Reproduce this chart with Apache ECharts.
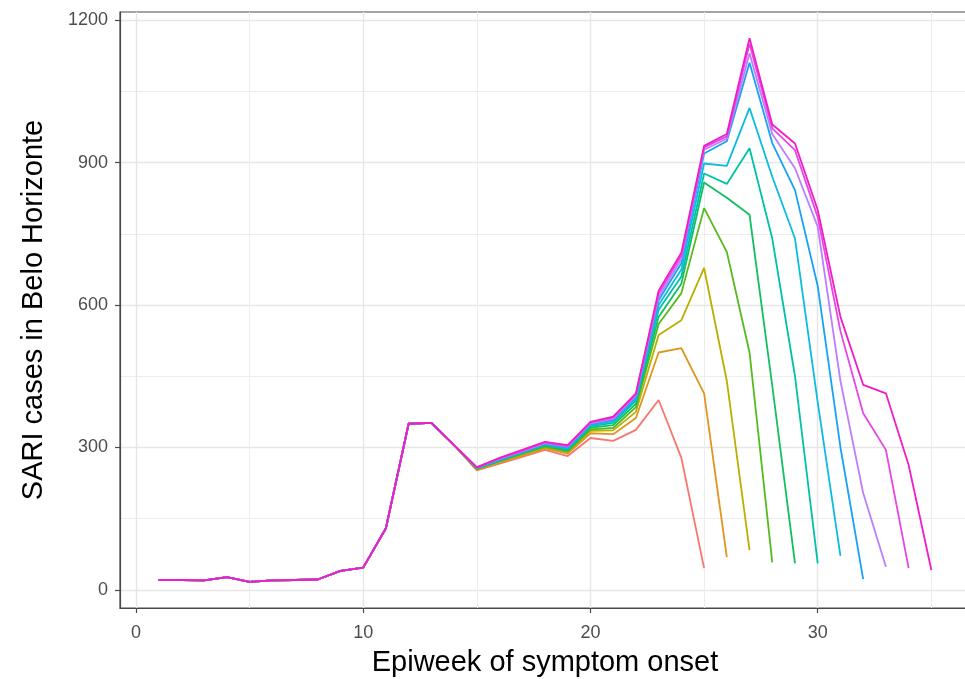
<!DOCTYPE html>
<html>
<head>
<meta charset="utf-8">
<script src="https://cdn.jsdelivr.net/npm/echarts@6/dist/echarts.min.js"></script>
<style>
  html, body { margin: 0; padding: 0; background: #ffffff; overflow: hidden; }
  #chart { width: 965px; height: 679px; }
</style>
</head>
<body>
<div id="chart"></div>
<script>
// Weekly SARI counts in Belo Horizonte, one curve per data snapshot.
// Weeks 1-14 are shared by every snapshot.
const earlyCounts = [21, 21, 20, 27, 17, 20, 21, 22, 40, 47, 130, 350, 352, 305];

// Each snapshot continues from week 15 up to its last reported week.
const snapshotWeek25 = [252, 266, 280, 295, 282, 320, 314, 337, 400, 278, 46];
const snapshotWeek26 = [253, 268, 283, 298, 287, 330, 328, 362, 500, 509, 414, 69];
const snapshotWeek27 = [254, 270, 285, 300, 290, 335, 336, 375, 537, 568, 678, 440, 84];
const snapshotWeek28 = [255, 271, 287, 302, 292, 338, 341, 385, 560, 625, 804, 712, 500, 58];
const snapshotWeek29 = [256, 272, 288, 304, 294, 342, 347, 392, 575, 645, 858, 826, 790, 430, 56];
const snapshotWeek30 = [256, 273, 289, 305, 296, 345, 352, 398, 590, 660, 877, 855, 930, 740, 450, 56];
const snapshotWeek31 = [257, 274, 290, 307, 298, 347, 355, 402, 600, 675, 898, 893, 1015, 870, 740, 395, 72];
const snapshotWeek32 = [257, 275, 291, 308, 300, 349, 358, 406, 610, 688, 919, 945, 1110, 941, 842, 640, 300, 23];
const snapshotWeek33 = [258, 276, 292, 309, 302, 351, 360, 409, 617, 697, 927, 950, 1130, 960, 888, 765, 440, 204, 49];
const snapshotWeek34 = [258, 277, 293, 311, 303, 353, 363, 412, 624, 704, 932, 955, 1150, 972, 926, 785, 545, 372, 295, 46];
const snapshotWeek35 = [258, 278, 295, 312, 305, 354, 365, 414, 630, 710, 935, 960, 1162, 980, 940, 800, 575, 432, 414, 263, 42];

const snapshots = [
  snapshotWeek25, snapshotWeek26, snapshotWeek27, snapshotWeek28,
  snapshotWeek29, snapshotWeek30, snapshotWeek31, snapshotWeek32,
  snapshotWeek33, snapshotWeek34, snapshotWeek35
];
const snapshotNames = ['25', '26', '27', '28', '29', '30', '31', '32', '33', '34', '35'];
const snapshotColors = [
  '#F8766D', '#E0961E', '#BBAE00', '#55BA1E', '#10BF5E', '#00C1A7',
  '#0CBCE0', '#18A2F4', '#BC7EFF', '#E845E6', '#F01DC6'
];

// Tick values for the axes
const xMajorTicks = [0, 10, 20, 30];
const xMinorTicks = [5, 15, 25, 35];
const yMajorTicks = [0, 300, 600, 900, 1200];
const yMinorTicks = [150, 450, 750, 1050];

const tickFont = { color: '#4D4D4D', fontSize: 18, fontFamily: 'Liberation Sans, Arial, sans-serif' };
const titleFont = { color: '#000000', fontSize: 29, fontFamily: 'Liberation Sans, Arial, sans-serif' };
const plainNumber = function (v) { return String(v); };

const series = snapshots.map(function (tail, k) {
  const counts = earlyCounts.concat(tail);
  return {
    name: snapshotNames[k],
    type: 'line',
    xAxisIndex: 0,
    yAxisIndex: 0,
    showSymbol: false,
    symbol: 'none',
    data: counts.map(function (v, i) { return [i + 1, v]; }),
    lineStyle: { width: 1.8, color: snapshotColors[k] },
    itemStyle: { color: snapshotColors[k] },
    z: 10 + k
  };
});

const chart = echarts.init(document.getElementById('chart'), null, { renderer: 'canvas' });
chart.setOption({
  animation: false,
  backgroundColor: '#ffffff',
  grid: {
    left: 120, top: 12, width: 850, height: 596,
    containLabel: false, outerBoundsMode: 'none',
    show: true, backgroundColor: '#ffffff',
    borderColor: '#4A4A4A', borderWidth: 1.2
  },
  xAxis: [
    {
      type: 'value', min: -0.7, max: 36.7,
      name: 'Epiweek of symptom onset', nameLocation: 'middle', nameGap: 40,
      nameTextStyle: titleFont,
      axisLine: { show: true, onZero: false, lineStyle: { color: '#4A4A4A', width: 1.2 } },
      axisTick: { show: true, length: 5, customValues: xMajorTicks, lineStyle: { color: '#4A4A4A', width: 1.2 } },
      axisLabel: Object.assign({ customValues: xMajorTicks, margin: 16, formatter: plainNumber }, tickFont),
      splitLine: { show: true, lineStyle: { color: '#E6E6E6', width: 1.4 } }
    },
    {
      type: 'value', min: -0.7, max: 36.7, position: 'bottom',
      axisLine: { show: false, onZero: false },
      axisTick: { show: false, customValues: xMinorTicks },
      axisLabel: { show: false, customValues: xMinorTicks },
      splitLine: { show: true, lineStyle: { color: '#EDEDED', width: 1 } }
    }
  ],
  yAxis: [
    {
      type: 'value', min: -38, max: 1217,
      name: 'SARI cases in Belo Horizonte', nameLocation: 'middle', nameGap: 72,
      nameTextStyle: titleFont,
      axisLine: { show: true, onZero: false, lineStyle: { color: '#4A4A4A', width: 1.2 } },
      axisTick: { show: true, length: 5, customValues: yMajorTicks, lineStyle: { color: '#4A4A4A', width: 1.2 } },
      axisLabel: Object.assign({ customValues: yMajorTicks, margin: 12, formatter: plainNumber }, tickFont),
      splitLine: { show: true, lineStyle: { color: '#E6E6E6', width: 1.4 } }
    },
    {
      type: 'value', min: -38, max: 1217, position: 'left',
      axisLine: { show: false, onZero: false },
      axisTick: { show: false, customValues: yMinorTicks },
      axisLabel: { show: false, customValues: yMinorTicks },
      splitLine: { show: true, lineStyle: { color: '#EDEDED', width: 1 } }
    }
  ],
  series: series
});
</script>
</body>
</html>
